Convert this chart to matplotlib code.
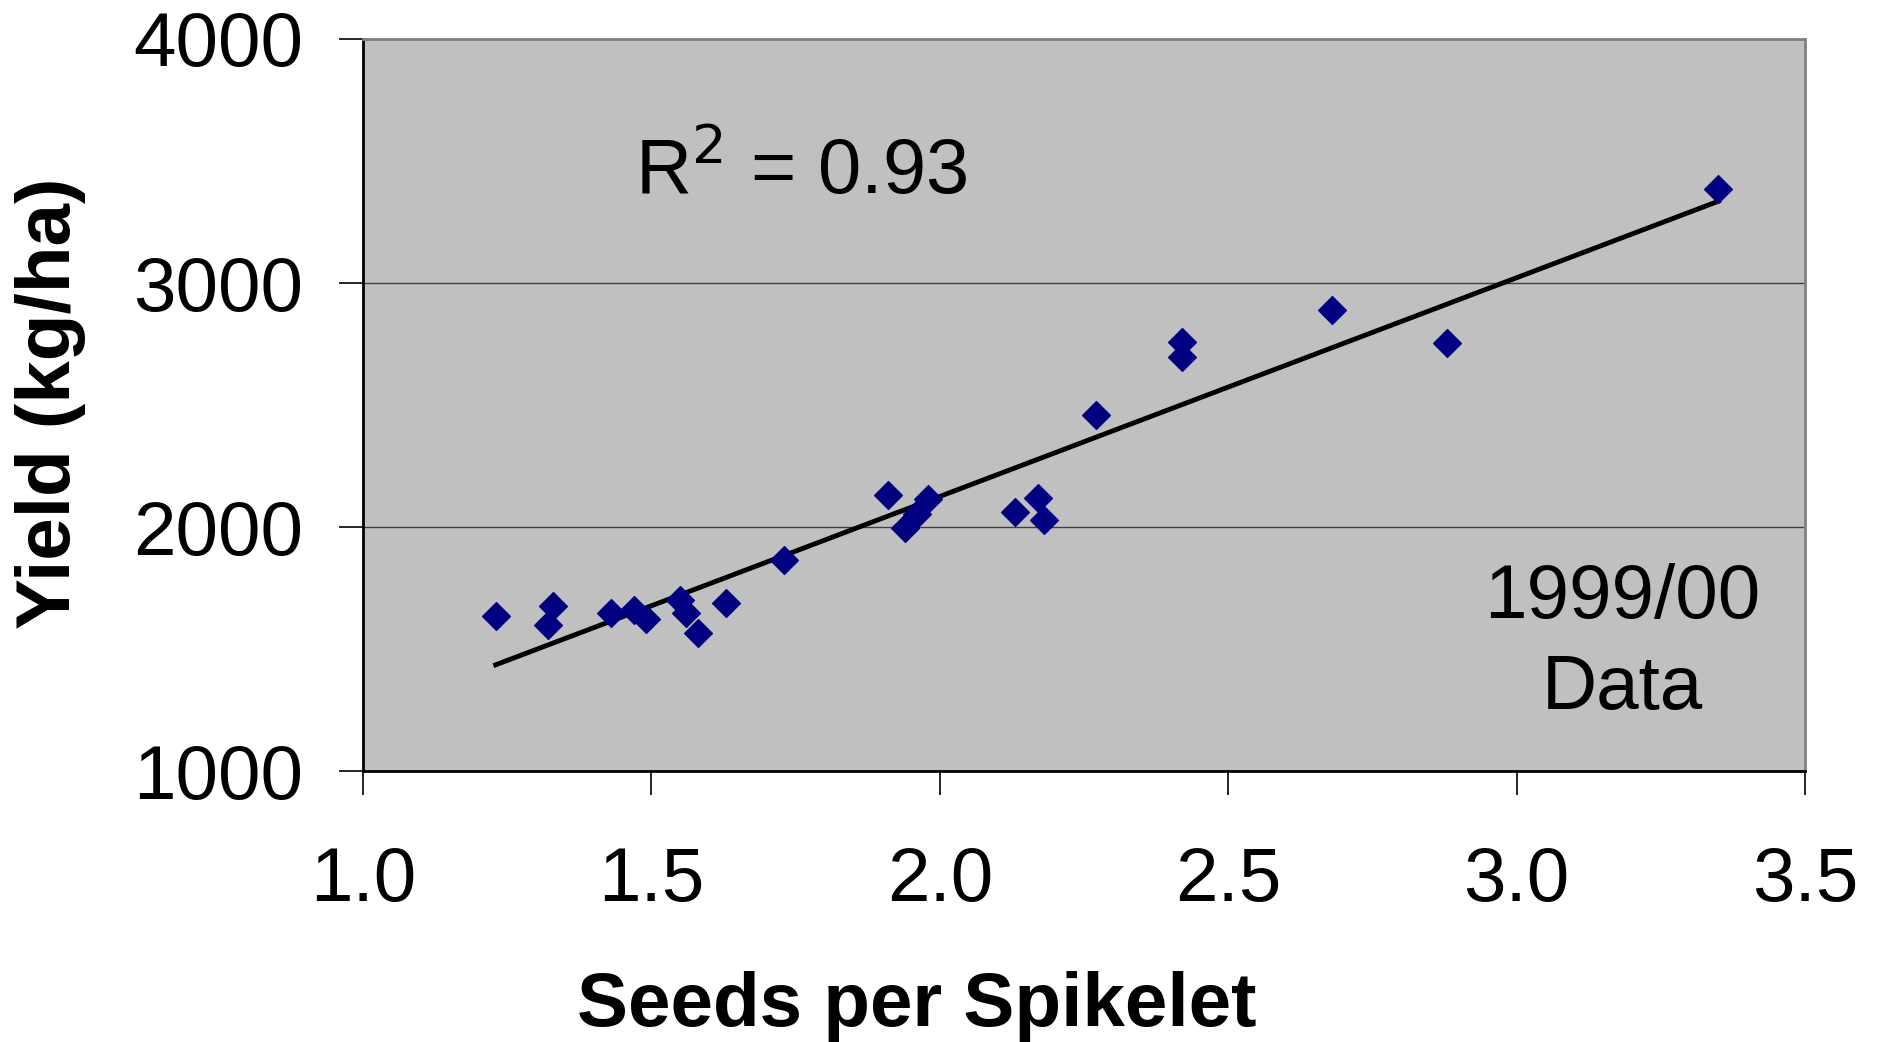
import numpy as np
import matplotlib.pyplot as plt

plt.rcParams['font.family'] = ['Liberation Sans', 'DejaVu Sans']

# seeds per spikelet vs yield, 1999/00
seeds = [1.23, 1.32, 1.33, 1.43, 1.47, 1.49, 1.55, 1.56, 1.58, 1.63,
         1.73, 1.91, 1.94, 1.96, 1.98, 2.13, 2.17, 2.18, 2.27, 2.42,
         2.42, 2.68, 2.88, 3.35]
yield_kg = [1634, 1600, 1678, 1649, 1659, 1624, 1703, 1649, 1565, 1688,
            1865, 2131, 1998, 2052, 2116, 2062, 2121, 2027, 2460, 2760,
            2696, 2888, 2755, 3385]
x_ticks = [1.0, 1.5, 2.0, 2.5, 3.0, 3.5]
y_ticks = [1000, 2000, 3000, 4000]

fig = plt.figure(figsize=(18.81, 10.42), dpi=100)
ax = fig.add_axes([0.193, 0.260, 0.7666, 0.7026])
ax.set_facecolor('#C0C0C0')

ax.scatter(seeds, yield_kg, marker='D', s=200, color='#000080', zorder=3)

coef = np.polyfit(seeds, yield_kg, 1)
xs = np.array([min(seeds), max(seeds)])
ax.plot(xs, np.polyval(coef, xs), color='black', lw=3.5, zorder=2)

ax.set_xlim(1.0, 3.5)
ax.set_ylim(1000, 4000)
ax.set_xticks(x_ticks)
ax.set_xticklabels([f'{t:.1f}' for t in x_ticks])
ax.set_yticks(y_ticks)
ax.yaxis.grid(True, color='#404040', lw=1)
ax.set_axisbelow(True)

ax.tick_params(axis='both', direction='out', length=17, width=1.2, labelsize=55)
ax.tick_params(axis='x', pad=37)
ax.tick_params(axis='y', pad=26)
for s in ['top', 'right']:
    ax.spines[s].set_color('#808080')
    ax.spines[s].set_linewidth(2)
for s in ['left', 'bottom']:
    ax.spines[s].set_color('black')
    ax.spines[s].set_linewidth(2)

fig.text(0.4875, 0.034, 'Seeds per Spikelet', fontsize=55, fontweight='bold',
         ha='center', va='center')
fig.text(0.027, 0.613, 'Yield (kg/ha)', fontsize=55, fontweight='bold',
         ha='center', va='center', rotation=90)

ax.text(1.76, 3454, r'R$^2$ = 0.93', fontsize=56, ha='center', va='center')
ax.text(3.184, 1520, '1999/00\nData', fontsize=55, ha='center', va='center',
        linespacing=1.36)

fig.savefig('out.png', dpi=100)
